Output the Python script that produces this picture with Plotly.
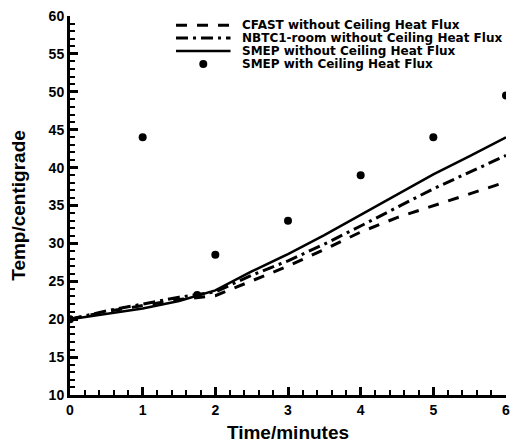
import plotly.graph_objects as go

# ---- data ----
time_min = [0, 0.5, 1, 1.5, 2, 2.5, 3, 3.5, 4, 4.5, 5, 5.5, 6]
cfast_no_flux = [20, 21.0, 21.8, 22.6, 23.1, 25.0, 27.0, 29.2, 31.5, 33.4, 35.0, 36.6, 38.1]
nbtc1_no_flux = [20, 21.1, 22.0, 22.9, 23.6, 25.8, 27.7, 29.9, 32.3, 34.7, 37.2, 39.4, 41.6]
smep_no_flux = [20, 20.7, 21.4, 22.4, 23.8, 26.3, 28.6, 31.1, 33.8, 36.4, 39.1, 41.5, 44.0]
smep_flux_t = [0, 1, 1.75, 2, 3, 4, 5, 6]
smep_flux = [20, 44, 23.2, 28.5, 33, 39, 44, 49.5]

names = ["CFAST without Ceiling Heat Flux",
         "NBTC1-room without Ceiling Heat Flux",
         "SMEP without Ceiling Heat Flux",
         "SMEP with Ceiling Heat Flux"]

FONT = "Liberation Sans, Arial, sans-serif"
LEGFONT = "DejaVu Sans, Liberation Sans, sans-serif"
W, H = 518, 448
ML, MR, MT, MB = 70, 8, 13, 41
PW, PH = W - ML - MR, H - MT - MB

DASH = "11px,10px"
DASHDOT = "12px,5px,3px,5px"

fig = go.Figure()
fig.add_trace(go.Scatter(x=time_min, y=cfast_no_flux, mode="lines", name=names[0],
                         line=dict(color="black", width=3, dash=DASH)))
fig.add_trace(go.Scatter(x=time_min, y=nbtc1_no_flux, mode="lines", name=names[1],
                         line=dict(color="black", width=3, dash=DASHDOT)))
fig.add_trace(go.Scatter(x=time_min, y=smep_no_flux, mode="lines", name=names[2],
                         line=dict(color="black", width=2.5)))
fig.add_trace(go.Scatter(x=smep_flux_t, y=smep_flux, mode="markers", name=names[3],
                         marker=dict(color="black", size=8)))

axis_common = dict(
    showline=True, linecolor="black", linewidth=3, mirror=False,
    ticks="inside", ticklen=8, tickwidth=2.5, tickcolor="black",
    showgrid=False, zeroline=False,
    tickfont=dict(family=FONT, size=14, color="black", weight="bold"),
)

fig.update_xaxes(
    range=[0, 6], dtick=1, tick0=0,
    minor=dict(ticks="inside", ticklen=5, tickwidth=1.5, tickcolor="black", dtick=0.2, showgrid=False),
    title=dict(text="Time/minutes", font=dict(family=FONT, size=19, color="black", weight="bold"), standoff=9),
    **axis_common)
fig.update_yaxes(
    range=[10, 60], dtick=5, tick0=10,
    minor=dict(ticks="inside", ticklen=5, tickwidth=1.5, tickcolor="black", dtick=1, showgrid=False),
    title=dict(text="Temp/centigrade", font=dict(family=FONT, size=19, color="black", weight="bold"), standoff=18),
    **axis_common)

# ---- hand-placed legend (paper coordinates from pixel positions) ----
def px_x(px):
    return (px - ML) / PW

def px_y(py):
    return (H - MB - py) / PH

rows = [22.5, 36, 49.5, 63]
samp_x0, samp_x1, text_x = 177, 232, 242
styles = [dict(width=3, dash=DASH), dict(width=3, dash=DASHDOT), dict(width=2.5, dash="solid")]
for i, st in enumerate(styles):
    fig.add_shape(type="line", xref="paper", yref="paper",
                  x0=px_x(samp_x0), x1=px_x(samp_x1), y0=px_y(rows[i]), y1=px_y(rows[i]),
                  line=dict(color="black", **st))
fig.add_shape(type="circle", xref="paper", yref="paper",
              xsizemode="pixel", ysizemode="pixel",
              xanchor=px_x((samp_x0 + samp_x1) / 2), yanchor=px_y(rows[3]),
              x0=-4, x1=4, y0=-4, y1=4,
              fillcolor="black", line=dict(color="black", width=0))
for i, nm in enumerate(names):
    fig.add_annotation(text=nm, xref="paper", yref="paper",
                       x=px_x(text_x), y=px_y(rows[i]), xanchor="left", yanchor="middle",
                       showarrow=False,
                       font=dict(family=LEGFONT, size=12, color="black", weight="bold"))

fig.update_layout(
    width=W, height=H,
    margin=dict(l=ML, r=MR, t=MT, b=MB),
    paper_bgcolor="white", plot_bgcolor="white",
    showlegend=False,
)

fig.write_html("out.html")
